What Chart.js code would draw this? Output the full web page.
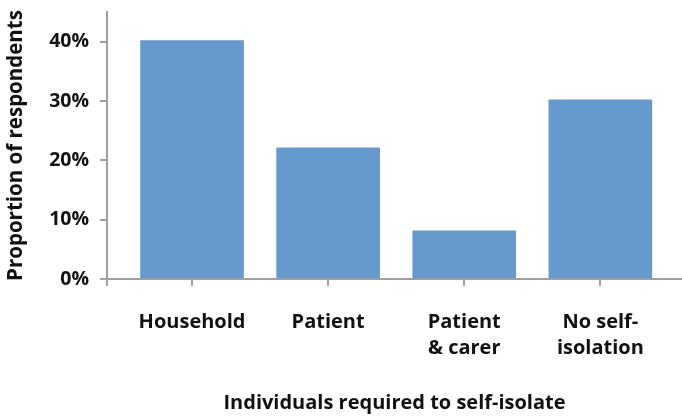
<!DOCTYPE html>
<html>
<head>
<meta charset="utf-8">
<script src="https://cdn.jsdelivr.net/npm/chart.js@4"></script>
<style>
  html, body { margin: 0; padding: 0; background: #fff; }
  #wrap { width: 682px; height: 417px; }
</style>
</head>
<body>
<div id="wrap"><canvas id="selfIsolateChart"></canvas></div>
<script>
const categories = [["Household"], ["Patient"], ["Patient", "& carer"], ["No self-", "isolation"]];
const proportions = [40.2, 22.1, 8.1, 30.2];
const yTicks = [0, 10, 20, 30, 40];

const fontFamily = '"Open Sans"';
const axisGrey = '#a0a0a0';

const chartConfig = {
  type: 'bar',
  data: {
    datasets: [{
      data: proportions.map((v, i) => ({ x: i, y: v })),
      backgroundColor: '#6699cc',
      borderWidth: 0,
      barThickness: 103
    }]
  },
  options: {
    responsive: true,
    maintainAspectRatio: false,
    animation: { duration: 0 },
    layout: { padding: { top: 12, right: 0, left: 0, bottom: 0 } },
    plugins: {
      legend: { display: false },
      tooltip: { enabled: false }
    },
    scales: {
      x: {
        type: 'linear',
        offset: false,
        min: -0.625,
        max: 3.6,
        afterBuildTicks: scale => {
          scale.ticks = [-0.625, 0, 1, 2, 3].map(v => ({ value: v }));
        },
        afterFit: scale => {
          scale.height = 138;
          scale.paddingLeft = 0;
          scale.paddingRight = 0;
        },
        border: { color: axisGrey, width: 2 },
        grid: { offset: false, drawOnChartArea: false, color: axisGrey, lineWidth: 2, tickLength: 7 },
        ticks: {
          autoSkip: false,
          maxRotation: 0,
          padding: 23,
          color: '#111',
          font: { family: fontFamily, size: 20, weight: 'bold', lineHeight: 1.3 },
          callback: value => Number.isInteger(value) ? categories[value] : ''
        },
        title: {
          display: true,
          text: 'Individuals required to self-isolate',
          color: '#111',
          font: { family: fontFamily, size: 20, weight: 'bold' },
          padding: { top: 0, bottom: 2 }
        }
      },
      y: {
        min: 0,
        max: 45,
        afterBuildTicks: scale => {
          scale.ticks = yTicks.map(v => ({ value: v }));
        },
        afterFit: scale => {
          scale.width = 107;
          scale.paddingTop = 0;
          scale.paddingBottom = 0;
        },
        border: { color: axisGrey, width: 2 },
        grid: { drawOnChartArea: false, color: axisGrey, lineWidth: 2, tickLength: 7 },
        ticks: {
          padding: 11,
          color: '#111',
          font: { family: fontFamily, size: 19.5, weight: 'bold' },
          callback: value => value + '%'
        },
        title: {
          display: true,
          text: 'Proportion of respondents',
          color: '#111',
          font: { family: fontFamily, size: 20.5, weight: 'bold' },
          padding: { top: 4, bottom: 0 }
        }
      }
    }
  }
};

window.onload = () => {
  const el = document.getElementById('selfIsolateChart');
  if (el) {
    new Chart(el.getContext('2d'), chartConfig);
  }
};
</script>
</body>
</html>
